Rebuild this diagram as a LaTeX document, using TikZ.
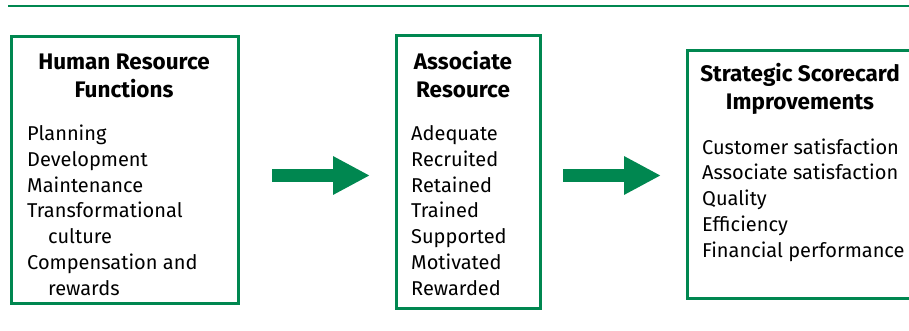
\documentclass[tikz,border=0pt]{standalone}
\usepackage{fontspec}
\setmainfont{Fira Sans}
\usetikzlibrary{arrows.meta, positioning}
\definecolor{hrgreen}{RGB}{0,135,80}

\tikzset{
  panel/.style={draw=hrgreen, line width=3pt, inner sep=0pt},
  headtext/.style={font=\fontsize{22.5}{28}\selectfont\bfseries, align=center, inner sep=0pt, anchor=base},
  listtext/.style={font=\fontsize{20}{25.7}\selectfont, align=left, inner sep=0pt, anchor=base west},
  flow/.style={line width=13pt, hrgreen, -{Triangle[length=37pt,width=36pt]}},
}

\begin{document}
\begin{tikzpicture}[x=1pt, y=-1pt]
\useasboundingbox (0,0) rectangle (909,331);
\clip (0,0) rectangle (909,331);
% top rule
\draw[hrgreen, line width=1.2pt] (8,6) -- (909,6);
% the three panels
\node[panel, minimum width=227, minimum height=266, anchor=north west] (hrf) at (9.5,35.5) {};
\node[panel, minimum width=144, minimum height=272, anchor=north west] (asr) at (394.5,34.5) {};
\node[panel, minimum width=235, minimum height=247, anchor=north west] (ssi) at (685.5,49.5) {};
% headings (placed by the baseline of their last line)
\node[headtext] (hrfhead) at (124,98) {Human Resource\\Functions};
\node[headtext] (asrhead) at (463,98) {Associate\\Resource};
\node[headtext] (ssihead) at (800,110) {Strategic Scorecard\\Improvements};
% lists
\node[listtext] (hrflist) at (27,295) {Planning\\Development\\Maintenance\\Transformational\\\hspace*{21pt}culture\\Compensation and\\\hspace*{21pt}rewards};
\node[listtext] (asrlist) at (411,295) {Adequate\\Recruited\\Retained\\Trained\\Supported\\Motivated\\Rewarded};
\node[listtext] (ssilist) at (702,257) {Customer satisfaction\\Associate satisfaction\\Quality\\Efficiency\\Financial performance};
% block arrows
\coordinate (flowa) at (272,175.5);
\coordinate (flowb) at (370,175.5);
\coordinate (flowc) at (563,175.5);
\coordinate (flowd) at (661,175.5);
\draw[flow] (flowa) -- (flowb);
\draw[flow] (flowc) -- (flowd);
\end{tikzpicture}
\end{document}
